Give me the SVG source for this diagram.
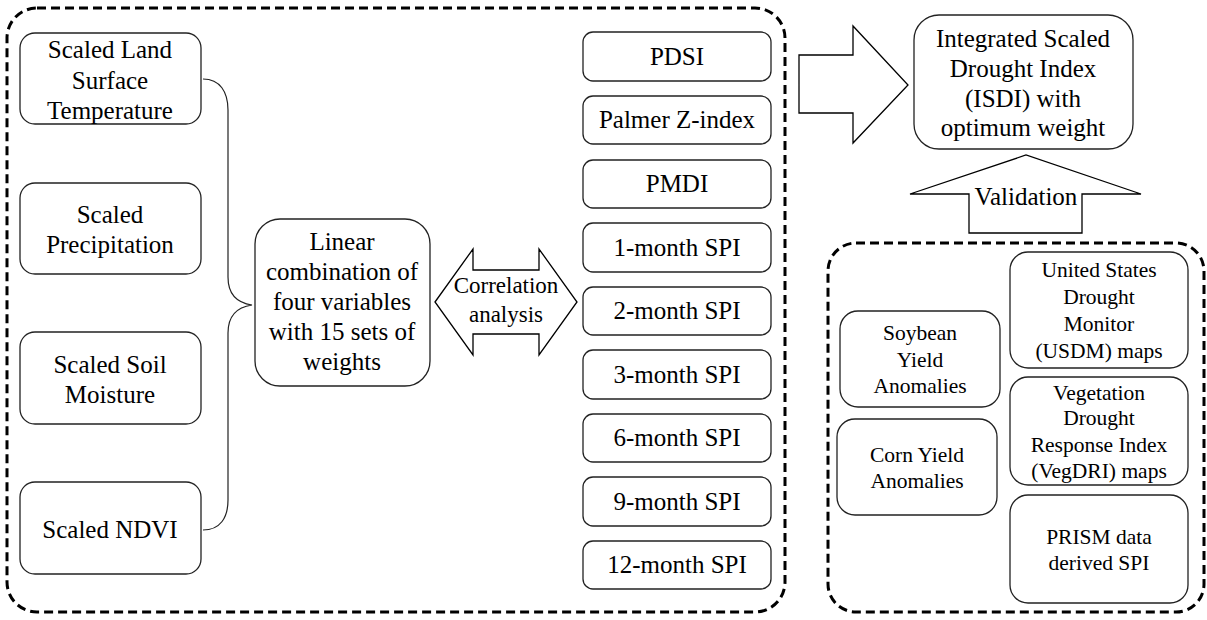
<svg xmlns="http://www.w3.org/2000/svg" width="1207" height="620" viewBox="0 0 1207 620">
  <style>
    .box { fill: #fff; stroke: #222; stroke-width: 1.3; }
    .frame { fill: none; stroke: #000; stroke-width: 3; stroke-dasharray: 9 5; }
    .shape { fill: #fff; stroke: #000; stroke-width: 1.3; }
    .line { fill: none; stroke: #222; stroke-width: 1.2; }
    text { font-family: "Liberation Serif", "Times New Roman", serif; fill: #000; text-anchor: middle; }
    .t25 { font-size: 25px; }
    .t23 { font-size: 23px; }
    .t22 { font-size: 21.5px; }
  </style>

  <!-- dashed group frames -->
  <g id="frames">
    <rect class="frame" x="7" y="8" width="778" height="604" rx="30"/>
    <rect class="frame" x="828" y="243" width="376" height="369" rx="28"/>
  </g>

  <!-- connectors -->
  <g id="connectors">
    <path class="line" d="M203,79 C220,79 228,92 228,110 L228,277 C228,295 238,303 252,305 C238,307 228,315 228,333 L228,500 C228,518 220,530 203,530"/>
    <!-- correlation double arrow -->
    <path class="shape" d="M435,302 L473,249 L473,270 L539,270 L539,249 L577,302 L539,355 L539,334 L473,334 L473,355 Z"/>
    <!-- block arrow to ISDI -->
    <path class="shape" d="M799,55 L853,55 L853,26 L908,85 L853,143 L853,113 L799,113 Z"/>
    <!-- validation arrow -->
    <path class="shape" d="M969,233 L969,194 L910,194 L1026,155 L1141,194 L1082,194 L1082,233 Z"/>
    <text class="t23" x="506" y="293">Correlation</text>
    <text class="t23" x="506" y="322">analysis</text>
    <text class="t25" x="1026" y="205">Validation</text>
  </g>

  <!-- input variables -->
  <g id="n-lst">
    <rect class="box" x="20" y="33" width="181" height="91" rx="15"/>
    <text class="t25" x="110" y="58">Scaled Land</text>
    <text class="t25" x="110" y="89">Surface</text>
    <text class="t25" x="110" y="119">Temperature</text>
  </g>
  <g id="n-precip">
    <rect class="box" x="20" y="183" width="181" height="91" rx="15"/>
    <text class="t25" x="110" y="223">Scaled</text>
    <text class="t25" x="110" y="253">Precipitation</text>
  </g>
  <g id="n-soil">
    <rect class="box" x="20" y="332" width="181" height="92" rx="15"/>
    <text class="t25" x="110" y="373">Scaled Soil</text>
    <text class="t25" x="110" y="403">Moisture</text>
  </g>
  <g id="n-ndvi">
    <rect class="box" x="20" y="482" width="181" height="92" rx="15"/>
    <text class="t25" x="110" y="538">Scaled NDVI</text>
  </g>

  <!-- linear combination -->
  <g id="n-linear">
    <rect class="box" x="255" y="219" width="175" height="167" rx="25"/>
    <text class="t25" x="342" y="250">Linear</text>
    <text class="t25" x="342" y="280">combination of</text>
    <text class="t25" x="342" y="310">four variables</text>
    <text class="t25" x="342" y="340">with 15 sets of</text>
    <text class="t25" x="342" y="370">weights</text>
  </g>

  <!-- reference drought indices -->
  <g id="n-pdsi">
    <rect class="box" x="583" y="32" width="188" height="49" rx="10"/>
    <text class="t25" x="677" y="65">PDSI</text>
  </g>
  <g id="n-zindex">
    <rect class="box" x="583" y="96" width="188" height="48" rx="10"/>
    <text class="t25" x="677" y="128">Palmer Z-index</text>
  </g>
  <g id="n-pmdi">
    <rect class="box" x="583" y="160" width="188" height="48" rx="10"/>
    <text class="t25" x="677" y="192">PMDI</text>
  </g>
  <g id="n-spi1">
    <rect class="box" x="583" y="223" width="188" height="49" rx="10"/>
    <text class="t25" x="677" y="256">1-month SPI</text>
  </g>
  <g id="n-spi2">
    <rect class="box" x="583" y="287" width="188" height="48" rx="10"/>
    <text class="t25" x="677" y="319">2-month SPI</text>
  </g>
  <g id="n-spi3">
    <rect class="box" x="583" y="350" width="188" height="49" rx="10"/>
    <text class="t25" x="677" y="383">3-month SPI</text>
  </g>
  <g id="n-spi6">
    <rect class="box" x="583" y="414" width="188" height="48" rx="10"/>
    <text class="t25" x="677" y="446">6-month SPI</text>
  </g>
  <g id="n-spi9">
    <rect class="box" x="583" y="477" width="188" height="49" rx="10"/>
    <text class="t25" x="677" y="510">9-month SPI</text>
  </g>
  <g id="n-spi12">
    <rect class="box" x="583" y="541" width="188" height="48" rx="10"/>
    <text class="t25" x="677" y="573">12-month SPI</text>
  </g>

  <!-- result -->
  <g id="n-isdi">
    <rect class="box" x="914" y="15" width="219" height="134" rx="25"/>
    <text class="t25" x="1023" y="47">Integrated Scaled</text>
    <text class="t25" x="1023" y="77">Drought Index</text>
    <text class="t25" x="1023" y="107">(ISDI) with</text>
    <text class="t25" x="1023" y="136">optimum weight</text>
  </g>

  <!-- validation datasets -->
  <g id="n-soybean">
    <rect class="box" x="840" y="311" width="160" height="96" rx="18"/>
    <text class="t22" x="920" y="340">Soybean</text>
    <text class="t22" x="920" y="367">Yield</text>
    <text class="t22" x="920" y="393">Anomalies</text>
  </g>
  <g id="n-corn">
    <rect class="box" x="837" y="419" width="160" height="96" rx="18"/>
    <text class="t22" x="917" y="462">Corn Yield</text>
    <text class="t22" x="917" y="488">Anomalies</text>
  </g>
  <g id="n-usdm">
    <rect class="box" x="1010" y="252" width="178" height="116" rx="18"/>
    <text class="t22" x="1099" y="277">United States</text>
    <text class="t22" x="1099" y="304">Drought</text>
    <text class="t22" x="1099" y="331">Monitor</text>
    <text class="t22" x="1099" y="358">(USDM) maps</text>
  </g>
  <g id="n-vegdri">
    <rect class="box" x="1010" y="377" width="178" height="108" rx="18"/>
    <text class="t22" x="1099" y="400">Vegetation</text>
    <text class="t22" x="1099" y="425">Drought</text>
    <text class="t22" x="1099" y="452">Response Index</text>
    <text class="t22" x="1099" y="478">(VegDRI) maps</text>
  </g>
  <g id="n-prism">
    <rect class="box" x="1010" y="495" width="178" height="108" rx="18"/>
    <text class="t22" x="1099" y="544">PRISM data</text>
    <text class="t22" x="1099" y="570">derived SPI</text>
  </g>
</svg>
